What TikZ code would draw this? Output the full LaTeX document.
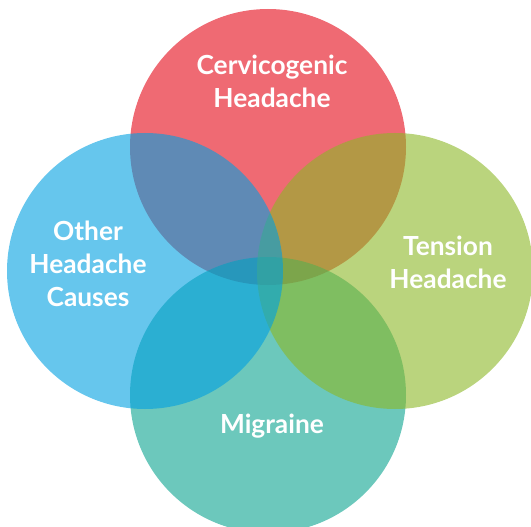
\documentclass[tikz,border=0pt]{standalone}
\usepackage{fontspec}
\setmainfont{Lato}
\usepackage{tikz}
\definecolor{HeadacheColor1}{RGB}{228,6,22}
\definecolor{HeadacheColor2}{RGB}{10,163,143}
\definecolor{HeadacheColor3}{RGB}{140,183,38}
\definecolor{HeadacheColor4}{RGB}{0,160,225}

\begin{document}
\begin{tikzpicture}[x=1pt,y=-1pt,blob/.style={circle,fill=#1,fill opacity=0.6,minimum size=276pt,inner sep=0pt},lbl/.style={text=white,align=center,font=\bfseries\fontsize{26.3}{33}\selectfont}]
\useasboundingbox (0,0) rectangle (531,527);
   \node[blob=HeadacheColor1](c0) at(268,147) {};
   \node[blob=HeadacheColor2](c1) at(268,395) {};
   \node[blob=HeadacheColor3](c2) at(395,271) {};
   \node[blob=HeadacheColor4](c3) at(145,271) {};
   \node[lbl](t0) at(272,81) {Cervicogenic\\Headache};
   \node[lbl](t1) at(272,426) {Migraine};
   \node[lbl](t2) at(448,262) {Tension\\Headache};
   \node[lbl](t3) at(88,264) {Other\\Headache\\Causes};
\end{tikzpicture}
\end{document}
